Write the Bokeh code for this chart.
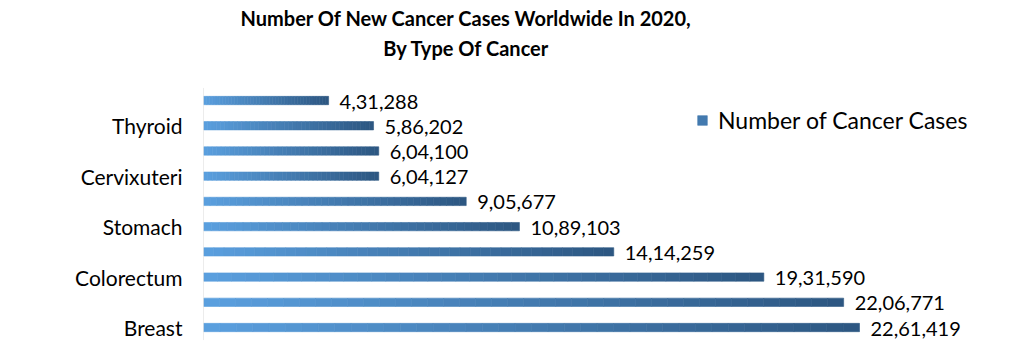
import numpy as np
from bokeh.plotting import figure
from bokeh.models import ColumnDataSource, FixedTicker, Label, Legend, LegendItem, Range1d
from bokeh.core.properties import value
from bokeh.embed import file_html
from bokeh.resources import INLINE

# ---------------- data ----------------
categories = ["Breast", "Lung", "Colorectum", "Prostate", "Stomach",
              "Liver", "Cervixuteri", "Oesophagus", "Thyroid", "Bladder"]
cases = [2261419, 2206771, 1931590, 1414259, 1089103,
         905677, 604127, 604100, 586202, 431288]
series_name = "Number of Cancer Cases"
title_lines = ["Number Of New Cancer Cases Worldwide In 2020,", "By Type Of Cancer"]
labelled_idx = [0, 2, 4, 6, 8]   # only every other category is labelled


def indian_format(n):
    s = str(int(n))
    if len(s) <= 3:
        return s
    head, tail = s[:-3], s[-3:]
    groups = []
    while len(head) > 2:
        groups.insert(0, head[-2:])
        head = head[:-2]
    if head:
        groups.insert(0, head)
    return ",".join(groups + [tail])


FONT = "Lato"
W, H = 999, 342
LEFT, BOTTOM = 203, 2
PX_PER_UNIT = 656 / 2261419.0
frame_w = W - LEFT
x_end = frame_w / PX_PER_UNIT

n = len(categories)
row_px = 25.22
frame_h = H - BOTTOM
y_start = -0.515
y_end = y_start + frame_h / row_px

p = figure(width=W, height=H, output_backend="svg", toolbar_location=None,
           x_range=Range1d(0, x_end), y_range=Range1d(y_start, y_end),
           min_border_left=LEFT, min_border_right=0, min_border_top=0,
           min_border_bottom=BOTTOM)
p.outline_line_color = None
p.xgrid.visible = False
p.ygrid.visible = False
p.xaxis.visible = False
p.background_fill_color = "white"
p.border_fill_color = "white"

# ---------- gradient bars (each bar split into slices) ----------
N = 40
c0 = np.array([90, 159, 222])
c1 = np.array([45, 87, 130])
lefts, rights, ys, cols = [], [], [], []
for i, v in enumerate(cases):
    for k in range(N):
        t = k / (N - 1)
        c = (c0 * (1 - t) + c1 * t).round().astype(int)
        lefts.append(v * k / N)
        rights.append(v * (k + 1) / N)
        ys.append(i)
        cols.append("#%02x%02x%02x" % tuple(c))
src = ColumnDataSource(dict(left=lefts, right=rights, y=ys, color=cols))
bars = p.hbar(y="y", left="left", right="right", height=0.33, source=src,
              fill_color="color", line_color="color", line_width=0.6)

# axis line
p.segment(x0=[0], y0=[-0.5], x1=[0], y1=[n - 0.5], line_color="#d9d9d9", line_width=1)

# value labels
lab_src = ColumnDataSource(dict(x=cases, y=list(range(n)),
                                txt=[indian_format(v) for v in cases]))
p.text(x="x", y="y", text="txt", source=lab_src, x_offset=11, y_offset=1,
       text_align="left", text_baseline="middle",
       text_font=value(FONT), text_font_size="20px", text_color="#000000")

# y axis
p.yaxis.ticker = FixedTicker(ticks=labelled_idx)
p.yaxis.major_label_overrides = {i: categories[i] for i in labelled_idx}
p.yaxis.axis_line_color = None
p.yaxis.major_tick_line_color = None
p.yaxis.minor_tick_line_color = None
p.yaxis.major_tick_out = 0
p.yaxis.major_tick_in = 0
p.yaxis.major_label_standoff = 21
p.yaxis.major_label_text_font = FONT
p.yaxis.major_label_text_font_size = "21px"
p.yaxis.major_label_text_color = "#000000"

# title (two centred lines)
for j, line in enumerate(title_lines):
    p.add_layout(Label(x=263, y=323 - 30 * j, x_units="screen", y_units="screen",
                       text=line, text_align="center", text_baseline="middle",
                       text_font=FONT, text_font_style="bold",
                       text_font_size="20px", text_color="#000000"))

# legend
legend = Legend(items=[LegendItem(label=series_name, renderers=[bars], index=N // 2)],
                location=(493, 206), orientation="vertical",
                glyph_width=12, glyph_height=12, label_standoff=10,
                label_height=24, padding=0, margin=0, spacing=0,
                label_text_font=FONT, label_text_font_size="23px",
                label_text_color="#000000",
                border_line_color=None, background_fill_alpha=0)
p.add_layout(legend)

open("out.html", "w").write(file_html(p, INLINE))
